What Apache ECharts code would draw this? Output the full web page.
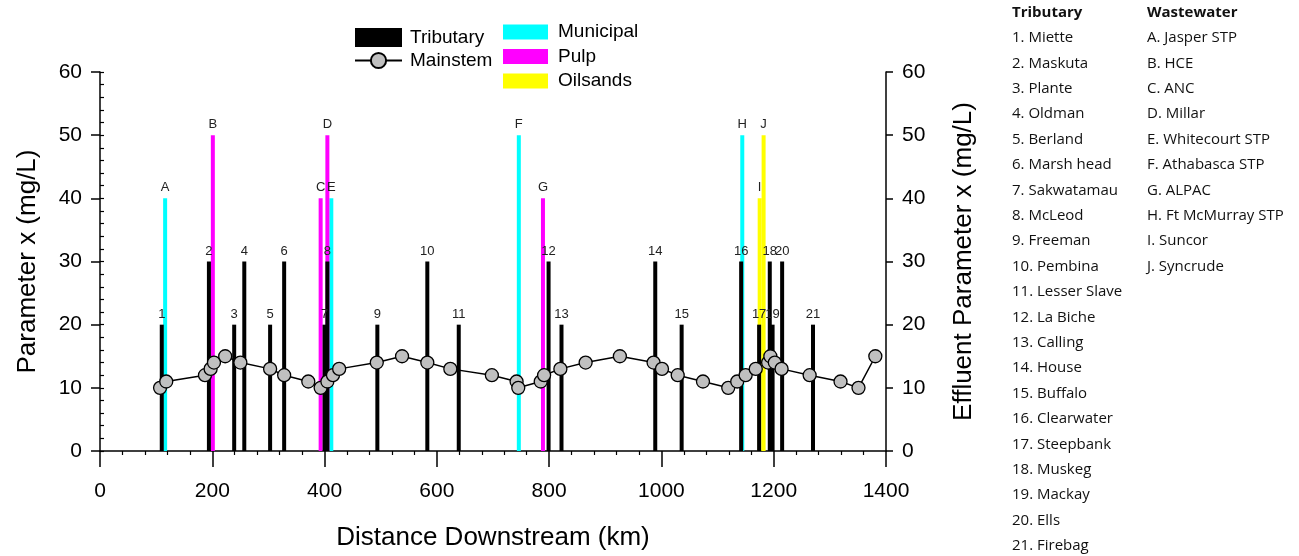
<!DOCTYPE html>
<html>
<head>
<meta charset="utf-8">
<script src="https://cdn.jsdelivr.net/npm/echarts@6/dist/echarts.min.js"></script>
<style>
  html, body { margin: 0; padding: 0; background: #fff; }
  #chart { width: 1299px; height: 556px; }
</style>
</head>
<body>
<div id="chart"></div>
<script>
// Tributary inflows: distance downstream (km) and concentration (mg/L)
const tribKm  = [110, 194, 239, 257, 303, 328, 400, 405, 494, 583, 639, 799, 822, 989, 1036, 1142, 1174, 1193, 1198, 1215, 1270];
const tribVal = [20, 30, 20, 30, 20, 30, 20, 30, 20, 30, 20, 30, 20, 30, 20, 30, 20, 30, 20, 30, 20];
const tribNames = ['Miette', 'Maskuta', 'Plante', 'Oldman', 'Berland', 'Marsh head', 'Sakwatamau', 'McLeod',
  'Freeman', 'Pembina', 'Lesser Slave', 'La Biche', 'Calling', 'House', 'Buffalo', 'Clearwater',
  'Steepbank', 'Muskeg', 'Mackay', 'Ells', 'Firebag'];

// Wastewater effluents
const wwLetters = ['A', 'B', 'C', 'D', 'E', 'F', 'G', 'H', 'I', 'J'];
const wwNames = ['Jasper STP', 'HCE', 'ANC', 'Millar', 'Whitecourt STP', 'Athabasca STP', 'ALPAC',
  'Ft McMurray STP', 'Suncor', 'Syncrude'];
const wwKm  = [116, 201, 393, 405, 412, 746, 789, 1144, 1175, 1182];
const wwVal = [40, 50, 40, 50, 40, 50, 40, 50, 40, 50];
const wwType = ['Municipal', 'Pulp', 'Pulp', 'Pulp', 'Municipal', 'Municipal', 'Pulp', 'Municipal', 'Oilsands', 'Oilsands'];

// Mainstem profile
const mainKm  = [107, 118, 187, 197, 203, 223, 250, 303, 328, 371, 393, 405, 415, 426, 493, 538, 583, 624, 698,
  742, 745, 785, 791, 820, 865, 926, 986, 1001, 1029, 1074, 1119, 1135, 1150, 1168, 1190, 1194, 1202, 1214,
  1264, 1319, 1351, 1381];
const mainVal = [10, 11, 12, 13, 14, 15, 14, 13, 12, 11, 10, 11, 12, 13, 14, 15, 14, 13, 12,
  11, 10, 11, 12, 13, 14, 15, 14, 13, 12, 11, 10, 11, 12, 13, 14, 15, 14, 13,
  12, 11, 10, 15];

const xTicks = [0, 200, 400, 600, 800, 1000, 1200, 1400];
const yTicks = [0, 10, 20, 30, 40, 50, 60];

const wwColors = { Municipal: '#00FFFF', Pulp: '#FF00FF', Oilsands: '#FFFF00' };
const FONT = 'Arial, "Liberation Sans", sans-serif';
const LIST_FONT = '"Open Sans", "Noto Sans", sans-serif';

const labelStyle = { show: true, position: 'top', distance: 4, formatter: '{b}',
  color: '#222', fontFamily: FONT, fontSize: 13 };

function wwSeries(type) {
  const data = [];
  wwLetters.forEach((l, i) => {
    if (wwType[i] === type) data.push({ name: l, value: [wwKm[i], wwVal[i]] });
  });
  return {
    name: type, type: 'bar', xAxisIndex: 0, yAxisIndex: 1, barWidth: 4, barGap: '-100%',
    itemStyle: { color: wwColors[type] }, label: labelStyle, data: data, z: 2
  };
}

const tribData = tribKm.map((k, i) => ({ name: String(i + 1), value: [k, tribVal[i]] }));
const mainData = mainKm.map((k, i) => [k, mainVal[i]]);

// Side list of site names
const graphics = [];
const listX1 = 1012, listX2 = 1147, listY0 = 15, rowH = 25.4;
const listSize = 15;
graphics.push({ type: 'text', left: listX1, top: listY0 - 10,
  style: { text: 'Tributary', font: 'bold ' + listSize + 'px ' + LIST_FONT, fill: '#111' } });
graphics.push({ type: 'text', left: listX2, top: listY0 - 10,
  style: { text: 'Wastewater', font: 'bold ' + listSize + 'px ' + LIST_FONT, fill: '#111' } });
tribNames.forEach((n, i) => {
  graphics.push({ type: 'text', left: listX1, top: listY0 + rowH * (i + 1) - 10,
    style: { text: (i + 1) + '. ' + n, font: listSize + 'px ' + LIST_FONT, fill: '#111' } });
});
wwNames.forEach((n, i) => {
  graphics.push({ type: 'text', left: listX2, top: listY0 + rowH * (i + 1) - 10,
    style: { text: wwLetters[i] + '. ' + n, font: listSize + 'px ' + LIST_FONT, fill: '#111' } });
});

const axisText = { color: '#000', fontFamily: FONT, fontSize: 21 };
const nameText = { color: '#000', fontFamily: FONT, fontSize: 26 };
const plainNum = v => String(v);

const chart = echarts.init(document.getElementById('chart'), null, { renderer: 'canvas' });
chart.setOption({
  animation: false,
  backgroundColor: '#fff',
  grid: { left: 100, right: 413, top: 72, bottom: 103, containLabel: false },
  legend: [
    {
      orient: 'vertical', left: 354, top: 28, padding: 0, itemWidth: 47, itemHeight: 19, itemGap: 4,
      textStyle: { color: '#000', fontFamily: FONT, fontSize: 19, padding: [0, 0, 0, 3] },
      data: [{ name: 'Tributary', icon: 'rect' }, { name: 'Mainstem' }],
      selectedMode: false
    },
    {
      orient: 'vertical', left: 503, top: 22.5, padding: 0, itemWidth: 45, itemHeight: 15, itemGap: 5.5,
      textStyle: { color: '#000', fontFamily: FONT, fontSize: 19, padding: [0, 0, 0, 5] },
      data: [{ name: 'Municipal', icon: 'rect' }, { name: 'Pulp', icon: 'rect' }, { name: 'Oilsands', icon: 'rect' }],
      selectedMode: false
    }
  ],
  xAxis: {
    type: 'value', min: xTicks[0], max: xTicks[xTicks.length - 1], interval: 200,
    name: 'Distance Downstream (km)', nameLocation: 'middle', nameGap: 74, nameTextStyle: nameText,
    axisLine: { show: true, onZero: false, lineStyle: { color: '#000', width: 1.5 } },
    axisTick: { show: true, inside: false, length: 16, lineStyle: { color: '#000', width: 1.5 } },
    minorTick: { show: true, splitNumber: 5, length: 4, lineStyle: { color: '#000', width: 1.2 } },
    axisLabel: Object.assign({ margin: 30, formatter: plainNum }, axisText),
    splitLine: { show: false }
  },
  yAxis: [
    {
      type: 'value', position: 'left', min: yTicks[0], max: yTicks[yTicks.length - 1], interval: 10,
      name: 'Parameter x (mg/L)', nameLocation: 'middle', nameGap: 59, nameRotate: 90, nameTextStyle: nameText,
      axisLine: { show: true, onZero: false, lineStyle: { color: '#000', width: 1.5 } },
      axisTick: { show: true, inside: false, length: 9, lineStyle: { color: '#000', width: 1.5 } },
      axisLabel: Object.assign({ margin: 18, formatter: plainNum }, axisText),
      splitLine: { show: false }
    },
    {
      type: 'value', position: 'right', min: yTicks[0], max: yTicks[yTicks.length - 1], interval: 10,
      name: 'Effluent Parameter x (mg/L)', nameLocation: 'middle', nameGap: 65, nameRotate: 90, nameTextStyle: nameText,
      axisLine: { show: true, onZero: false, lineStyle: { color: '#000', width: 1.5 } },
      axisTick: { show: true, inside: false, length: 7, lineStyle: { color: '#000', width: 1.5 } },
      axisLabel: Object.assign({ margin: 16, formatter: plainNum }, axisText),
      splitLine: { show: false }
    },
    {
      // inner minor ticks along the left axis
      type: 'value', position: 'left', min: yTicks[0], max: yTicks[yTicks.length - 1], interval: 2,
      axisLine: { show: false },
      axisTick: { show: true, inside: true, length: 4, lineStyle: { color: '#000', width: 1.2 } },
      axisLabel: { show: false },
      splitLine: { show: false }
    }
  ],
  series: [
    wwSeries('Municipal'),
    wwSeries('Pulp'),
    wwSeries('Oilsands'),
    {
      name: 'Tributary', type: 'bar', xAxisIndex: 0, yAxisIndex: 0, barWidth: 4, barGap: '-100%',
      itemStyle: { color: '#000' }, label: labelStyle, data: tribData, z: 3
    },
    {
      name: 'Mainstem', type: 'line', xAxisIndex: 0, yAxisIndex: 0,
      symbol: 'circle', symbolSize: 13,
      itemStyle: { color: '#C0C0C0', borderColor: '#000', borderWidth: 1.3 },
      lineStyle: { color: '#000', width: 1.5 },
      data: mainData, z: 4
    }
  ],
  graphic: graphics
});
</script>
</body>
</html>
